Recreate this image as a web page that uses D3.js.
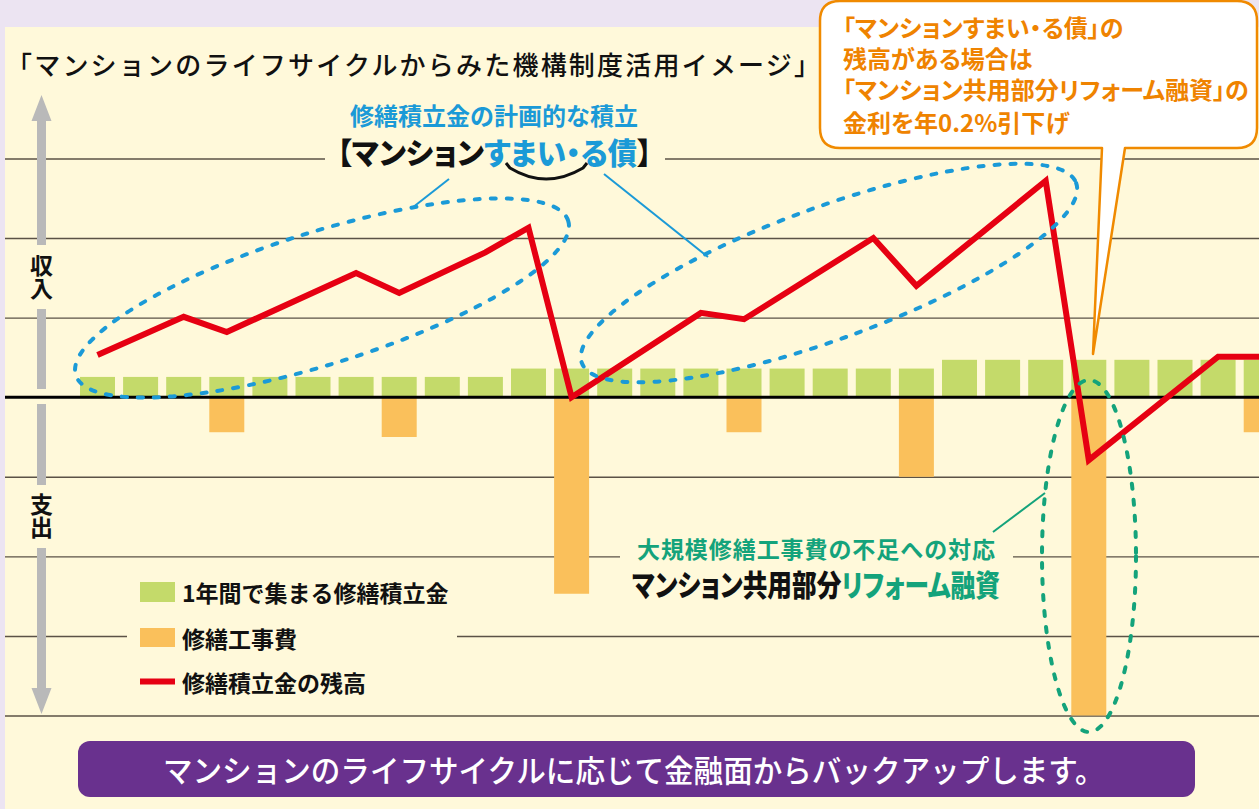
<!DOCTYPE html>
<html><head><meta charset="utf-8">
<script src="https://cdn.jsdelivr.net/npm/d3@7"></script>
<style>
html,body{margin:0;padding:0;background:#ece4f2;overflow:hidden;}
svg{display:block;font-family:"Noto Sans CJK JP","Noto Sans CJK SC",sans-serif;}
.palt{font-feature-settings:"palt";}
</style></head><body>
<svg id="c" width="1259" height="809"></svg>
<script>
// ---- data ----
const years = ["1","2","3","4","5","6","7","8","9","10","11","12","13","14","15","16","17","18","19","20","21","22","23","24","25","26","27","28"];
const annualReserve = [25.5,25.5,25.5,25.5,25.5,25.5,25.5,25.5,25.5,25.5,36,36,36,36,36,36,36,36,36,36,47,47,47,47,47,47,47,47];
const repairCost = [0,0,0,44,0,0,0,50,0,0,0,247,0,0,0,44,0,0,0,100,0,0,0,400,0,0,0,44];
const balanceYears = ["1","3","4","7","8","10","11","12","15","16","19","20","23","24","27","28"];
const balanceValues = [53,101,82,156,131,182,213,0,106,98,200,140,272,-79,51,51];
const yTicks = [-400,-300,-200,-100,0,100,200,300];
const legendLabels = ["1年間で集まる修繕積立金","修繕工事費","修繕積立金の残高"];
const titleText = "「マンションのライフサイクルからみた機構制度活用イメージ」";
const bubbleLines = ["「マンションすまい・る債」の","残高がある場合は","「マンション共用部分リフォーム融資」の","金利を年0.2%引下げ"];
const bannerText = "マンションのライフサイクルに応じて金融面からバックアップします。";

const C = {lav:"#ece4f2", cream:"#fff9da", green:"#c4da6a", orange:"#fac05b", red:"#e60012",
  blue:"#1b9ad7", teal:"#14a37b", grid:"#5b5246", gray:"#b9b9b9", orangeText:"#ef8300", purple:"#69318e"};

const svg = d3.select("#c");
svg.append("rect").attr("width",1259).attr("height",809).attr("fill",C.lav);
svg.append("rect").attr("x",5).attr("y",27).attr("width",1254).attr("height",782).attr("fill",C.cream);

const x = d3.scaleBand().domain(years).range([75.95, 75.95 + 28*43.1]).paddingInner(0.188).paddingOuter(0.094);
const y = d3.scaleLinear().domain([-400,300]).range([715.5,158.5]);

// gridlines through axis
const gAxis = svg.append("g").attr("transform","translate(5,0)")
  .call(d3.axisLeft(y).tickValues(yTicks.filter(v=>v!==0)).tickSize(-1254).tickFormat(""));
gAxis.select(".domain").remove();
gAxis.selectAll(".tick line").attr("stroke",C.grid).attr("stroke-width",1.4);

// masks behind texts
const mask = (x0,y0,w,h)=>svg.append("rect").attr("x",x0).attr("y",y0).attr("width",w).attr("height",h).attr("fill",C.cream);
mask(325,138,340,34);
mask(127,570,330,125);
mask(620,530,393,70);

// bars
svg.append("g").selectAll("rect").data(years).join("rect")
  .attr("x",d=>x(d)).attr("width",x.bandwidth())
  .attr("y",(d,i)=>y(annualReserve[i])).attr("height",(d,i)=>y(0)-y(annualReserve[i]))
  .attr("fill",C.green);
svg.append("g").selectAll("rect").data(years.filter((d,i)=>repairCost[i]>0)).join("rect")
  .attr("x",d=>x(d)).attr("width",x.bandwidth())
  .attr("y",y(0)).attr("height",d=>y(-repairCost[years.indexOf(d)])-y(0))
  .attr("fill",C.orange);

// zero line
svg.append("line").attr("x1",5).attr("x2",1259).attr("y1",y(0)).attr("y2",y(0)).attr("stroke","#000").attr("stroke-width",3);

// balance line
const pts = balanceYears.map((d,i)=>({k:d,v:balanceValues[i]}));
svg.append("path").datum(pts)
  .attr("d",d3.line().x(d=>x(d.k)+x.bandwidth()/2).y(d=>y(d.v)))
  .attr("fill","none").attr("stroke",C.red).attr("stroke-width",6).attr("stroke-linejoin","miter");

// dashed ellipses
const ell = (cx,cy,rx,ry,rot,col)=>svg.append("ellipse").attr("cx",cx).attr("cy",cy).attr("rx",rx).attr("ry",ry)
  .attr("transform",`rotate(${rot} ${cx} ${cy})`).attr("fill","none").attr("stroke",col)
  .attr("stroke-width",4).attr("stroke-dasharray","5 11").attr("stroke-linecap","round");
ell(322,298,258,66,-17.4,C.blue);
ell(829,273,263,66,-20,C.blue);
ell(1089,556,47,176,0,C.teal);

// connector lines
const ln=(x1,y1,x2,y2,col,w)=>svg.append("line").attr("x1",x1).attr("y1",y1).attr("x2",x2).attr("y2",y2).attr("stroke",col).attr("stroke-width",w);
ln(449,179,412,208,C.blue,2);
ln(604,174,708,257,C.blue,2);
ln(1045,493,993,532,C.teal,2);

// y-axis arrows
const gA = svg.append("g").attr("fill",C.gray);
gA.append("path").attr("d","M41.5,95 L51.5,121 L46,121 L46,245 L37,245 L37,121 L31.5,121 Z");
gA.append("rect").attr("x",37).attr("y",309).attr("width",9).attr("height",80);
gA.append("rect").attr("x",37).attr("y",404).attr("width",9).attr("height",81);
gA.append("path").attr("d","M37,548 L46,548 L46,688 L51.5,688 L41.5,714 L31.5,688 L37,688 Z");

const txt=(x0,y0,s,o={})=>{const t=svg.append("text").attr("x",x0).attr("y",y0).attr("dominant-baseline","central")
  .attr("font-size",o.size||20).attr("font-weight",o.weight||400).attr("fill",o.fill||"#111")
  .attr("text-anchor",o.anchor||"start").text(s);
  if(o.len) t.attr("textLength",o.len).attr("lengthAdjust",o.adj||"spacing");
  if(o.cls) t.attr("class",o.cls); return t;};

// vertical axis labels (vertical writing)
const vlab=(s,cy)=>svg.append("text").attr("x",41.5).attr("y",cy).attr("font-size",23).attr("font-weight",700)
  .attr("fill","#111").attr("writing-mode","vertical-rl").attr("text-anchor","middle").text(s);
vlab("収入",277);
vlab("支出",516);

// title
txt(6,63,titleText,{size:26,weight:500,len:814});

// legend
svg.append("rect").attr("x",140).attr("y",582).attr("width",35).attr("height",20).attr("fill",C.green);
svg.append("rect").attr("x",140).attr("y",628).attr("width",35).attr("height",19).attr("fill",C.orange);
svg.append("line").attr("x1",140).attr("x2",175).attr("y1",681.5).attr("y2",681.5).attr("stroke",C.red).attr("stroke-width",6);
legendLabels.forEach((s,i)=>txt(182,[592,638,682][i],s,{size:23,weight:700}));

// blue heading
txt(350,114,"修繕積立金の計画的な積立",{size:24,weight:700,fill:C.blue,len:288});

// condensed mixed-colour text: scaled horizontally to fit target width
const fit=(x0,y0,parts,size,target,weight,cls)=>{
  const t=svg.append("text").attr("x",0).attr("y",0).attr("dominant-baseline","central")
    .attr("font-size",size).attr("font-weight",weight);
  if(cls) t.attr("class",cls);
  parts.forEach(p=>t.append("tspan").attr("fill",p[1]).text(p[0]));
  const w=t.node().getComputedTextLength();
  t.attr("transform",`translate(${x0},${y0}) scale(${target/w},1)`);
  return t;};
fit(337,151,[["【マンション","#111"],["すまい・る債",C.blue],["】","#111"]],30,315,900,"palt");
svg.append("path").attr("d","M506,163 L510,168 Q546,190 583,168 L587,163").attr("fill","none").attr("stroke","#111").attr("stroke-width",3);

// green annotation
txt(637,548,"大規模修繕工事費の不足への対応",{size:23,weight:700,fill:C.teal,len:358});
fit(632,583,[["マンション共用部分","#111"],["リフォーム融資",C.teal]],30,368,900,"palt");

// bubble
svg.append("path").attr("d","M840,1 H1237 Q1257,1 1257,21 V128 Q1257,148 1237,148 H1125 L1093,354 L1102,148 H840 Q820,148 820,128 V21 Q820,1 840,1 Z")
  .attr("fill","#fff").attr("stroke","#f08a00").attr("stroke-width",2.5).attr("stroke-linejoin","round");
const bt = svg.append("text").attr("class","palt").attr("font-size",24).attr("font-weight",700)
  .attr("fill",C.orangeText).attr("dominant-baseline","central");
bubbleLines.forEach((s,i)=>bt.append("tspan").attr("x",843).attr("y",[26,57,88,121][i]).text(s));

// banner
svg.append("rect").attr("x",78).attr("y",741).attr("width",1117).attr("height",56).attr("rx",12).attr("fill",C.purple);
fit(163,769,[[bannerText,"#fff"]],31,942,500);
</script></body></html>
